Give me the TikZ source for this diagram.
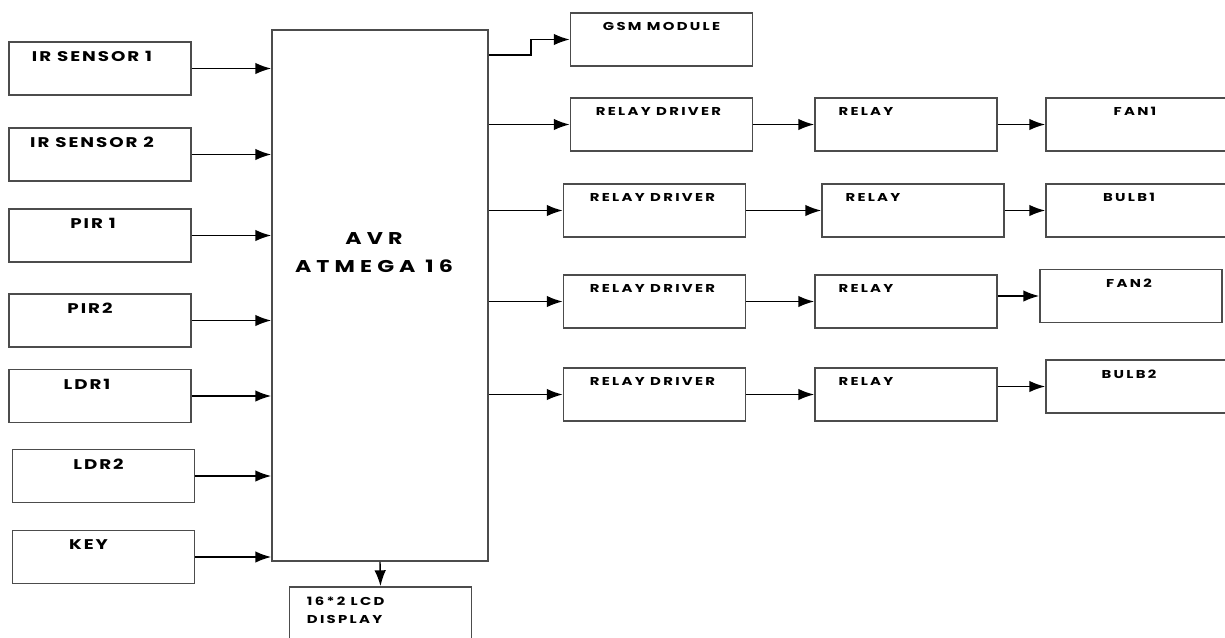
\documentclass[tikz,border=0pt]{standalone}
\usepackage{fontspec}
\newfontfamily\blkfontN{Poppins}[FakeStretch=1.3,LetterSpace=14]
\newfontfamily\blkfont{Poppins}[FakeStretch=1.3,LetterSpace=20]
\newfontfamily\blkfontW{Poppins}[FakeStretch=1.3,LetterSpace=30]
\usetikzlibrary{arrows.meta}

\begin{document}
\begin{tikzpicture}[x=0.02cm,y=-0.02cm,
    blkBox/.style={rectangle,draw=black!70,line width=1pt,fill=white,minimum width=3.64cm,minimum height=1.06cm,inner sep=0pt},
    blkTag/.style={anchor=north,yshift=-0.2cm,inner sep=0pt,font=\blkfontN\bfseries\fontsize{8}{9.6}\selectfont},
    blkTagS/.style={blkTag,font=\blkfont\bfseries\fontsize{6.5}{10.8}\selectfont},
    blkTagL/.style={anchor=center,align=center,inner sep=0pt,yshift=0.86cm,xshift=-0.12cm,font=\blkfontW\bfseries\fontsize{9.7}{15.9}\selectfont},
    blkArrow/.style={-{Latex[length=9pt,width=6.5pt]},line width=0.8pt},
]
\useasboundingbox (0,0) rectangle (1225,637);
% === inputs (left) ===
\node[blkBox,label={[blkTag,xshift=-0.16cm]north:IR SENSOR 1}] (ir1) at (100,68.5) {};
\node[blkBox,label={[blkTag,xshift=-0.16cm]north:IR SENSOR 2}] (ir2) at (100,154.5) {};
\node[blkBox,label={[blkTag,xshift=-0.14cm]north:PIR 1}] (pir1) at (100,235.5) {};
\node[blkBox,label={[blkTag,xshift=-0.2cm]north:PIR2}] (pir2) at (100,320.5) {};
\node[blkBox,label={[blkTag,xshift=-0.26cm]north:LDR1}] (ldr1) at (100,396) {};
\node[blkBox,label={[blkTag,xshift=-0.1cm]north:LDR2}] (ldr2) at (103.5,476) {};
\node[blkBox,label={[blkTag,xshift=-0.3cm]north:KEY}] (key) at (103.5,557) {};
% === controller ===
\node[blkBox,minimum width=4.32cm,minimum height=10.62cm,label={[blkTagL]center:AVR\\ATMEGA 16}] (avr) at (380,295.5) {};
\node[blkBox,label={[blkTagS,anchor=north west,align=left,xshift=0.36cm]north west:16*2 LCD\\DISPLAY}] (lcd) at (380.5,613.5) {};
% === outputs (right) ===
\node[blkBox,label={[blkTagS]north:GSM MODULE}] (gsm) at (661.5,39.5) {};
\node[blkBox,label={[blkTagS,xshift=-0.06cm]north:RELAY DRIVER}] (rd1) at (661.5,124.5) {};
\node[blkBox,label={[blkTagS,xshift=-0.8cm]north:RELAY}] (rl1) at (906,124.5) {};
\node[blkBox,label={[blkTagS,xshift=-0.04cm]north:FAN1}] (fan1) at (1137,124.5) {};
\node[blkBox,label={[blkTagS,xshift=-0.04cm]north:RELAY DRIVER}] (rd2) at (654.5,210.5) {};
\node[blkBox,label={[blkTagS,xshift=-0.8cm]north:RELAY}] (rl2) at (913,210.5) {};
\node[blkBox,label={[blkTagS,xshift=-0.16cm]north:BULB1}] (bulb1) at (1137,210.5) {};
\node[blkBox,label={[blkTagS,xshift=-0.04cm]north:RELAY DRIVER}] (rd3) at (654.5,301.5) {};
\node[blkBox,label={[blkTagS,xshift=-0.8cm]north:RELAY}] (rl3) at (906,301.5) {};
\node[blkBox,label={[blkTagS,xshift=-0.04cm]north:FAN2}] (fan2) at (1131,296) {};
\node[blkBox,label={[blkTagS,xshift=-0.04cm]north:RELAY DRIVER}] (rd4) at (654.5,394.5) {};
\node[blkBox,label={[blkTagS,xshift=-0.8cm]north:RELAY}] (rl4) at (906,394.5) {};
\node[blkBox,label={[blkTagS,xshift=-0.16cm]north:BULB2}] (bulb2) at (1137,386.5) {};
% === arrows ===
\foreach \src in {ir1,ir2,pir1,pir2,ldr1,ldr2,key}
    \draw[blkArrow] (\src.east) -- (\src.east -| avr.west);
\draw[blkArrow] (avr.south) -- (lcd.north);
\draw[blkArrow] (avr.east |- 0,55) -- ++(42,0) |- (gsm.west);
\foreach \drv/\rly/\load in {rd1/rl1/fan1,rd2/rl2/bulb1,rd3/rl3/fan2,rd4/rl4/bulb2}{
    \draw[blkArrow] (avr.east |- \drv.west) -- (\drv.west);
    \draw[blkArrow] (\drv.east) -- (\rly.west);
    \draw[blkArrow] (\rly.east |- \load.west) -- (\load.west);
}
\end{tikzpicture}
\end{document}
